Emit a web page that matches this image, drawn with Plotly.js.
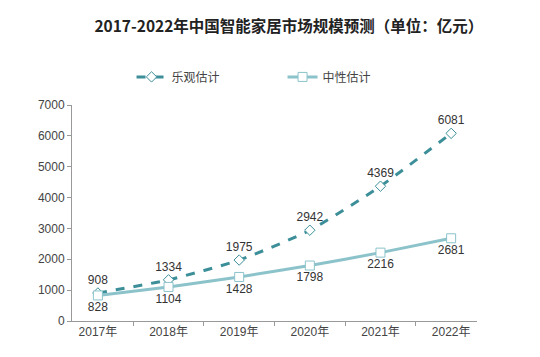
<!DOCTYPE html>
<html><head><meta charset="utf-8">
<script src="https://cdn.plot.ly/plotly-3.0.1.min.js"></script>
<style>body{margin:0;background:#fff}#c{width:540px;height:357px}</style>
</head><body><div id="c"></div>
<script>
var years = ["2017年","2018年","2019年","2020年","2021年","2022年"];
var optimistic = [908,1334,1975,2942,4369,6081];
var neutral = [828,1104,1428,1798,2216,2681];
var seriesNames = ["乐观估计","中性估计"];
var titleText = "2017-2022年中国智能家居市场规模预测（单位：亿元）";
var yTicks = [0,1000,2000,3000,4000,5000,6000,7000];

var FONT = "Liberation Sans, Arial, Noto Sans CJK SC, sans-serif";
var traces = [
  {x: years, y: optimistic, name: seriesNames[0], type: "scatter", mode: "lines+markers+text",
   line: {color: "#3c8f99", width: 3, dash: "dash", shape: "spline", smoothing: 0.6},
   marker: {symbol: "diamond", size: 8, color: "#ffffff", line: {color: "#3c8f99", width: 1}},
   text: optimistic.map(String), textposition: "top center", cliponaxis: false,
   textfont: {family: FONT, size: 12, color: "#333"}},
  {x: years, y: neutral, name: seriesNames[1], type: "scatter", mode: "lines+markers+text",
   line: {color: "#8cc3cb", width: 3, shape: "spline", smoothing: 0.6},
   marker: {symbol: "square", size: 9, color: "#ffffff", line: {color: "#8cc3cb", width: 1}},
   text: neutral.map(String), textposition: "bottom center", cliponaxis: false,
   textfont: {family: FONT, size: 12, color: "#333"}}
];
var layout = {
  width: 540, height: 357,
  margin: {l: 72, r: 63, t: 105, b: 36},
  paper_bgcolor: "#fff", plot_bgcolor: "#fff",
  font: {family: FONT, size: 12, color: "#444"},
  title: {text: "<b>" + titleText + "</b>", x: 0.535, xanchor: "center", y: 0.925, yanchor: "middle",
          font: {family: "Noto Sans CJK SC, Liberation Sans, sans-serif", size: 15.5, color: "#222"}},
  showlegend: true,
  legend: {orientation: "h", x: 0.147, xanchor: "left", y: 1.13, yanchor: "middle",
           entrywidth: 106, font: {family: "Noto Sans CJK SC, sans-serif", size: 12, color: "#444"}},
  xaxis: {type: "category", showline: true, linecolor: "#999", linewidth: 1,
          ticks: "outside", tickson: "boundaries", ticklen: 4, tickcolor: "#999",
          showgrid: false, zeroline: false,
          tickfont: {family: FONT, size: 12, color: "#444"}},
  yaxis: {range: [0, 7000], tickvals: yTicks, showline: true, linecolor: "#999", linewidth: 1,
          ticks: "outside", ticklen: 4, tickcolor: "#999", showgrid: false, zeroline: false,
          tickfont: {family: FONT, size: 12, color: "#444"}}
};
Plotly.newPlot("c", traces, layout, {displayModeBar: false, staticPlot: true});
</script></body></html>
